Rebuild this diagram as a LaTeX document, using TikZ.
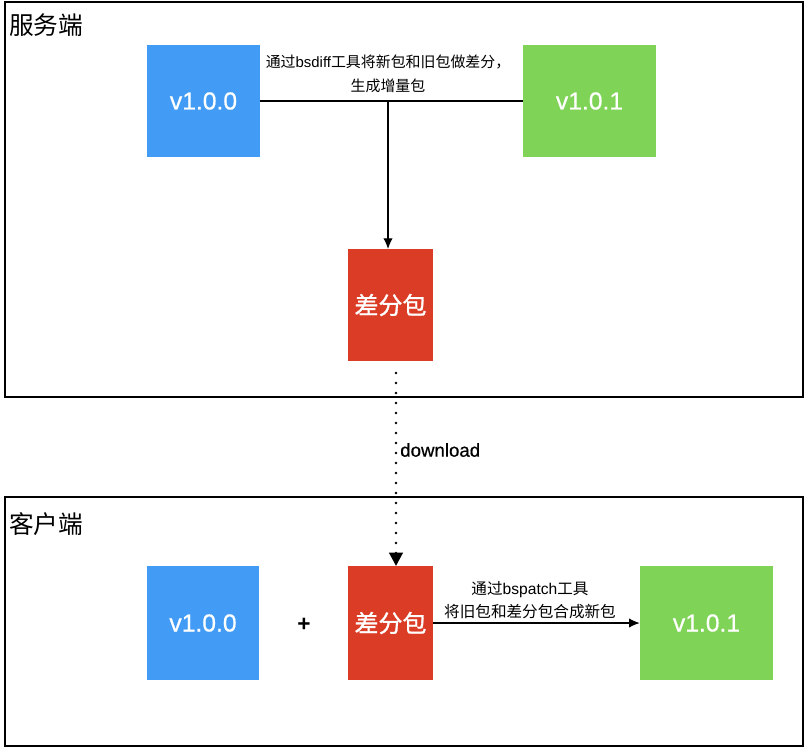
\documentclass[tikz,border=0pt]{standalone}
\usepackage{fontspec}
\setmainfont{Liberation Sans}
\newfontfamily\latm{Liberation Sans}[FakeBold=0.6]
\newfontfamily\cjk{Noto Sans CJK SC}
\newfontfamily\cjkb{Noto Sans CJK SC}[FakeBold=1.2]
\usetikzlibrary{arrows.meta}
\definecolor{vblue}{RGB}{66,156,245}
\definecolor{vgreen}{RGB}{127,211,86}
\definecolor{vred}{RGB}{219,60,38}
\tikzset{
  frame/.style={draw=black,line width=1.1pt},
  vbox/.style={draw=none,inner sep=0pt,text=white,font=\fontsize{18.5}{20}\selectfont\latm},
  redbox/.style={vbox,fill=vred,font=\fontsize{18}{20}\selectfont\cjkb},
  title/.style={anchor=west,inner sep=0pt,font=\fontsize{18.5}{20}\selectfont\cjk},
  lbl/.style={align=center,inner sep=0pt},
  conn/.style={line width=0.9pt,draw=black},
  tip/.style={-{Latex[length=8pt,width=7pt]}}
}
\begin{document}
\begin{tikzpicture}[x=0.75pt,y=-0.75pt]
\useasboundingbox (0,0) rectangle (806,750);
% frames
\draw[frame] (5,2) rectangle (803,397);
\draw[frame] (5,497) rectangle (803,746);
\node[title] (t1) at (9,25) {服务端};
\node[title] (t2) at (9,524) {客户端};
% top nodes
\node[vbox,fill=vblue,minimum width=84.75pt,minimum height=84pt] (a) at (203.5,101) {v1.0.0};
\node[vbox,fill=vgreen,minimum width=99.75pt,minimum height=84pt] (b) at (589.5,101) {v1.0.1};
\node[redbox,minimum width=63.75pt,minimum height=84pt] (r1) at (390.5,305) {差分包};
\draw[conn] (a.east) -- (b.west);
\coordinate (m) at (388,101);
\coordinate (mt) at (388,249);
\draw[conn,tip] (m) -- (mt);
\node[lbl,font=\fontsize{11.2}{18}\selectfont] (l1) at (388,74) {{\cjk 通过}bsdiff{\cjk 工具将新包和旧包做差分，}\\{\cjk 生成增量包}};
% bottom nodes
\node[vbox,fill=vblue,minimum width=84pt,minimum height=85.5pt] (c) at (203,623) {v1.0.0};
\node[font=\fontsize{17}{18}\selectfont\bfseries,inner sep=0pt] (plus) at (304,625) {+};
\node[redbox,minimum width=63.75pt,minimum height=85.5pt] (r2) at (390.5,623) {差分包};
\node[vbox,fill=vgreen,minimum width=99.75pt,minimum height=85.5pt] (d) at (706.5,623) {v1.0.1};
\draw[conn,tip] (r2.east) -- (d.west);
\node[lbl,font=\fontsize{11.7}{17.5}\selectfont] (l2) at (530,600) {{\cjk 通过}bspatch{\cjk 工具}\\{\cjk 将旧包和差分包合成新包}};
% download
\coordinate (ds) at (396,373);
\coordinate (de) at (396,566);
\draw[line width=2.2pt,dash pattern=on 0pt off 7.5pt,line cap=round,-{Triangle[length=10pt,width=10pt]}] (ds) -- (de);
\node[anchor=west,inner sep=0pt,font=\fontsize{14}{16}\selectfont\latm] (dl) at (400,450) {download};
\end{tikzpicture}
\end{document}
